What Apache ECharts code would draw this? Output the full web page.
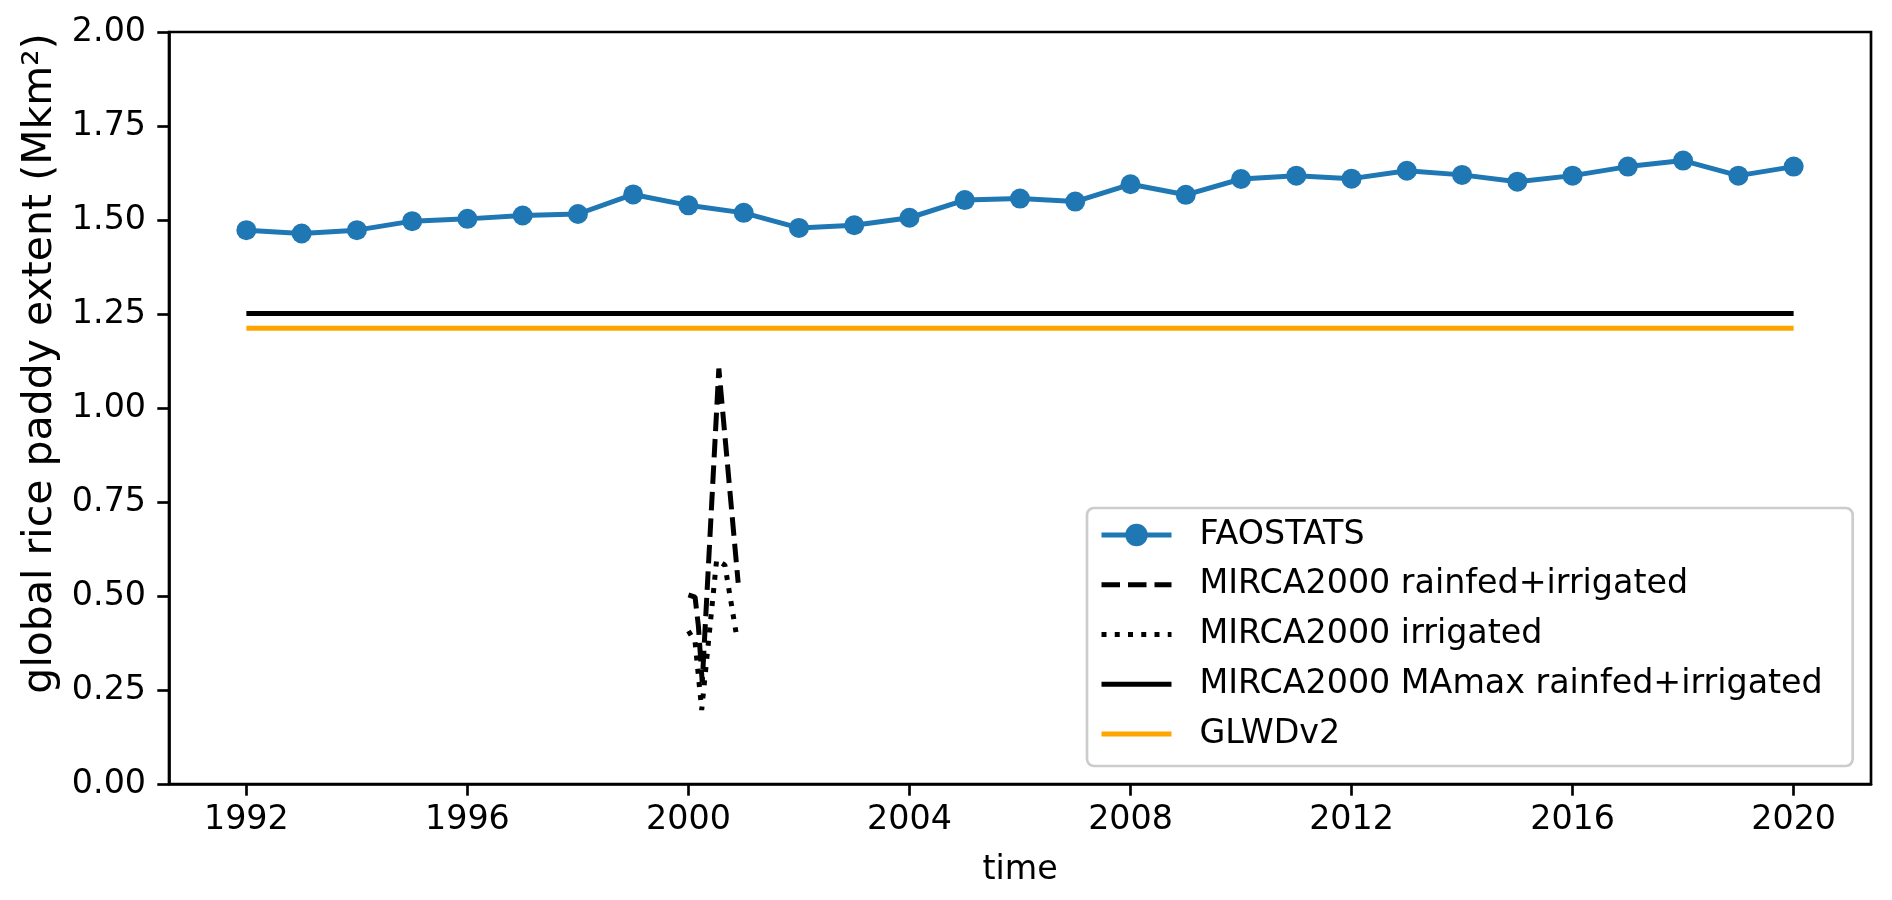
<!DOCTYPE html>
<html>
<head>
<meta charset="utf-8">
<script src="https://cdn.jsdelivr.net/npm/echarts@6/dist/echarts.min.js"></script>
<style>
html,body{margin:0;padding:0;background:#fff;}
#chart{width:1892px;height:900px;}
</style>
</head>
<body>
<div id="chart"></div>
<script>
// ---- data ----
const years = [1992,1993,1994,1995,1996,1997,1998,1999,2000,2001,2002,2003,2004,2005,2006,2007,2008,2009,2010,2011,2012,2013,2014,2015,2016,2017,2018,2019,2020];
const faostats = [1.473,1.464,1.473,1.497,1.503,1.512,1.516,1.568,1.539,1.519,1.479,1.486,1.506,1.553,1.557,1.549,1.595,1.567,1.609,1.618,1.610,1.631,1.620,1.602,1.618,1.642,1.658,1.618,1.642];

const mircaRfIrX = [2000.00,2000.12,2000.18,2000.25,2000.55,2000.90];
const mircaRfIrY = [0.503,0.497,0.420,0.270,1.105,0.535];

const mircaIrX = [2000.00,2000.12,2000.24,2000.51,2000.66,2000.86];
const mircaIrY = [0.407,0.378,0.197,0.596,0.582,0.404];

const mamaxX = [1992,2020];
const mamaxY = [1.251,1.251];

const glwdX = [1992,2020];
const glwdY = [1.212,1.212];

const xTicks = [1992,1996,2000,2004,2008,2012,2016,2020];
const seriesNames = ['FAOSTATS','MIRCA2000 rainfed+irrigated','MIRCA2000 irrigated','MIRCA2000 MAmax rainfed+irrigated','GLWDv2'];

// ---- helpers ----
const pair = (xs, ys) => xs.map((x, i) => [x, ys[i]]);
const FONT = 'DejaVu Sans';
const FS = 33.3;
const LW = 5;
const DASH = [18.5, 8];
const DOT = [5, 8.25];

const noSym = {color: 'rgba(0,0,0,0)', borderWidth: 0, opacity: 0};

const chart = echarts.init(document.getElementById('chart'), null, {renderer: 'canvas'});
chart.setOption({
  animation: false,
  backgroundColor: '#ffffff',
  textStyle: {fontFamily: FONT},
  grid: {
    left: 169, right: 21, top: 32, bottom: 116,
    show: true, borderColor: '#000', borderWidth: 2.67, backgroundColor: 'transparent'
  },
  xAxis: {
    type: 'value', min: 1990.6, max: 2021.4,
    name: 'time', nameLocation: 'middle', nameGap: 70,
    nameTextStyle: {fontFamily: FONT, fontSize: FS, color: '#000'},
    axisLine: {show: true, lineStyle: {color: '#000', width: 2.67}},
    axisTick: {show: true, length: 11.7, lineStyle: {color: '#000', width: 2.67}, customValues: xTicks},
    axisLabel: {fontFamily: FONT, fontSize: FS, color: '#000', margin: 20, customValues: xTicks,
      formatter: v => String(Math.round(v))},
    splitLine: {show: false}
  },
  yAxis: {
    type: 'value', min: 0, max: 2, interval: 0.25,
    name: 'global rice paddy extent (Mkm²)', nameLocation: 'middle', nameGap: 104,
    nameTextStyle: {fontFamily: FONT, fontSize: 41, color: '#000', padding: [0, 0, 0, 89]},
    axisLine: {show: true, lineStyle: {color: '#000', width: 2.67}},
    axisTick: {show: true, length: 11.7, lineStyle: {color: '#000', width: 2.67}},
    axisLabel: {fontFamily: FONT, fontSize: FS, color: '#000', margin: 23, formatter: v => v.toFixed(2)},
    splitLine: {show: false}
  },
  legend: {
    orient: 'vertical', left: 1087, top: 508,
    data: [
      {name: seriesNames[0], lineStyle: {width: LW, color: '#1f77b4'}, itemStyle: {color: '#1f77b4'}},
      {name: seriesNames[1], lineStyle: {width: LW, color: '#000', type: DASH, cap: 'butt'}, itemStyle: noSym},
      {name: seriesNames[2], lineStyle: {width: LW, color: '#000', type: DOT, cap: 'butt'}, itemStyle: noSym},
      {name: seriesNames[3], lineStyle: {width: LW, color: '#000'}, itemStyle: noSym},
      {name: seriesNames[4], lineStyle: {width: LW, color: '#ffa500'}, itemStyle: noSym}
    ],
    itemWidth: 70, itemHeight: 28, itemGap: 9.75,
    padding: [7, 30, 12, 12],
    borderColor: '#cccccc', borderWidth: 2.67, borderRadius: 7,
    backgroundColor: 'rgba(255,255,255,0.8)',
    textStyle: {fontFamily: FONT, fontSize: FS, color: '#000', lineHeight: 40, padding: [0, 0, 0, 23]}
  },
  series: [
    {
      name: seriesNames[0], type: 'line', data: pair(years, faostats),
      symbol: 'circle', symbolSize: 20, showSymbol: true,
      itemStyle: {color: '#1f77b4'},
      lineStyle: {color: '#1f77b4', width: LW}, z: 2
    },
    {
      name: seriesNames[1], type: 'line', data: pair(mircaRfIrX, mircaRfIrY),
      symbol: 'none', itemStyle: {color: '#000'},
      lineStyle: {color: '#000', width: LW, type: DASH, cap: 'butt'}, z: 3
    },
    {
      name: seriesNames[2], type: 'line', data: pair(mircaIrX, mircaIrY),
      symbol: 'none', itemStyle: {color: '#000'},
      lineStyle: {color: '#000', width: LW, type: DOT, cap: 'butt'}, z: 4
    },
    {
      name: seriesNames[3], type: 'line', data: pair(mamaxX, mamaxY),
      symbol: 'none', itemStyle: {color: '#000'},
      lineStyle: {color: '#000', width: LW}, z: 5
    },
    {
      name: seriesNames[4], type: 'line', data: pair(glwdX, glwdY),
      symbol: 'none', itemStyle: {color: '#ffa500'},
      lineStyle: {color: '#ffa500', width: LW}, z: 6
    }
  ]
});
</script>
</body>
</html>
